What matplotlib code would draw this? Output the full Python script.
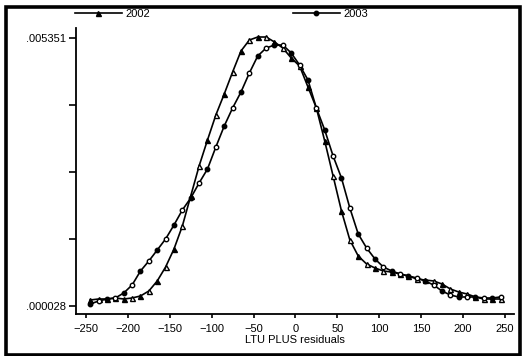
import matplotlib
matplotlib.use("Agg")
import matplotlib.pyplot as plt
from matplotlib.patches import Rectangle

plt.rcParams['font.family'] = ['Liberation Sans', 'DejaVu Sans']

# residual grid (kernel density evaluation points)
resid = [-245, -235, -225, -215, -205, -195, -185, -175, -165, -155,
         -145, -135, -125, -115, -105, -95, -85, -75, -65, -55,
         -45, -35, -25, -15, -5, 5, 15, 25, 35, 45,
         55, 65, 75, 85, 95, 105, 115, 125, 135, 145,
         155, 165, 175, 185, 195, 205, 215, 225, 235, 245]

dens_2002 = [0.000147, 0.000167, 0.000167, 0.000187, 0.000167, 0.000187, 0.000227, 0.000326, 0.000525, 0.000803,
             0.001160, 0.001617, 0.002213, 0.002809, 0.003325, 0.003822, 0.004239, 0.004676, 0.005093, 0.005311,
             0.005371, 0.005371, 0.005272, 0.005152, 0.004954, 0.004795, 0.004378, 0.003961, 0.003305, 0.002610,
             0.001915, 0.001339, 0.001021, 0.000862, 0.000783, 0.000723, 0.000703, 0.000664, 0.000624, 0.000564,
             0.000544, 0.000525, 0.000465, 0.000366, 0.000306, 0.000266, 0.000207, 0.000167, 0.000167, 0.000167]

dens_2003 = [0.000068, 0.000127, 0.000167, 0.000187, 0.000286, 0.000445, 0.000723, 0.000922, 0.001140, 0.001359,
             0.001637, 0.001935, 0.002173, 0.002471, 0.002749, 0.003186, 0.003603, 0.003961, 0.004278, 0.004656,
             0.004994, 0.005152, 0.005212, 0.005212, 0.005053, 0.004815, 0.004517, 0.003961, 0.003524, 0.003007,
             0.002570, 0.001974, 0.001458, 0.001180, 0.000962, 0.000803, 0.000723, 0.000664, 0.000624, 0.000584,
             0.000525, 0.000445, 0.000326, 0.000246, 0.000207, 0.000207, 0.000207, 0.000187, 0.000187, 0.000207]

x_ticks = [-250, -200, -150, -100, -50, 0, 50, 100, 150, 200, 250]
y_min, y_max = 0.000028, 0.005351
y_ticks = [y_min + i * (y_max - y_min) / 4 for i in range(5)]
y_labels = ['.000028', '', '', '', '.005351']

fig = plt.figure(figsize=(5.24, 3.56), dpi=100)
ax = fig.add_axes([76 / 524, 1 - 314 / 356, 438 / 524, 286 / 356])


def draw_series(x, y, marker, ms, label):
    # smooth line, markers alternating solid and open
    ax.plot(x, y, color='black', lw=1.2, marker=marker, ms=ms,
            mfc='black', mec='black', mew=1.0, markevery=2, label=label)
    ax.plot(x[1::2], y[1::2], ls='none', marker=marker, ms=ms,
            mfc='white', mec='black', mew=1.0)


draw_series(resid, dens_2002, '^', 3.6, '2002')
draw_series(resid, dens_2003, 'o', 3.2, '2003')

ax.set_xlim(-262, 261)
ax.set_ylim(-0.000131, 0.00555)
ax.set_xticks(x_ticks)
ax.set_yticks(y_ticks)
ax.set_yticklabels(y_labels)
ax.set_xlabel('LTU PLUS residuals', fontsize=8, labelpad=1)

for side in ['top', 'right']:
    ax.spines[side].set_visible(False)
for side in ['left', 'bottom']:
    ax.spines[side].set_linewidth(1.3)
ax.tick_params(axis='y', length=5, width=1.2, labelsize=8, pad=2)
ax.tick_params(axis='x', length=3, width=1.2, labelsize=8, pad=4)

ax.legend(loc='upper left', bbox_to_anchor=(75 / 524, 1 - 9 / 356),
          bbox_transform=fig.transFigure, ncol=2, frameon=False,
          fontsize=8, handlelength=4.2, handletextpad=0.3,
          columnspacing=12.9, borderpad=0, borderaxespad=0, markerscale=1.0)

# heavy frame round the whole graph
fig.patches.append(Rectangle((5.5 / 524, 1.5 / 356), 514 / 524, 347.5 / 356,
                             transform=fig.transFigure, fill=False,
                             edgecolor='black', lw=2.6))

fig.savefig('out.png', dpi=100)
